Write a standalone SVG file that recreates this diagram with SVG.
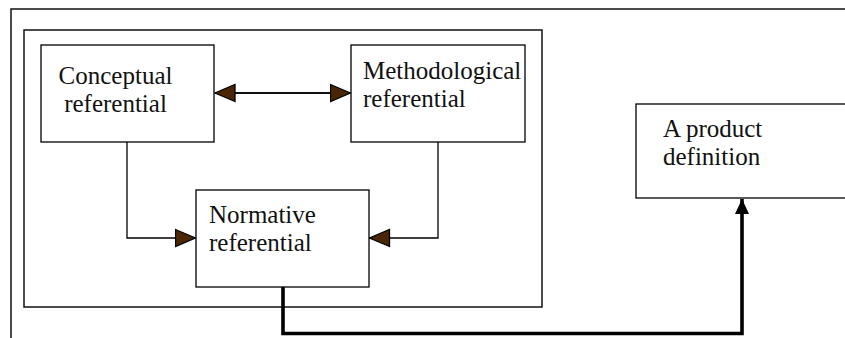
<svg xmlns="http://www.w3.org/2000/svg" width="845" height="338" viewBox="0 0 845 338">
  <defs>
    <style>
      .box { fill: #fff; stroke: #000; stroke-width: 1.3; }
      .frame { fill: none; stroke: #111; stroke-width: 1.5; }
      .link { fill: none; stroke: #000; stroke-width: 1.3; }
      .thick { fill: none; stroke: #000; stroke-width: 3.6; }
      .lbl { font-family: "Liberation Serif", "Times New Roman", serif; font-size: 25px; fill: #111; }
    </style>
    <marker id="brown" viewBox="0 0 22 20" refX="21" refY="10" markerWidth="22" markerHeight="20" markerUnits="userSpaceOnUse" orient="auto-start-reverse">
      <path d="M1,1.5 L21,10 L1,18.5 Z" fill="#4a2605" stroke="#000" stroke-width="1.3" stroke-linejoin="miter"/>
    </marker>
    <marker id="black" viewBox="0 0 16 15" refX="15" refY="7.5" markerWidth="16" markerHeight="15" markerUnits="userSpaceOnUse" orient="auto">
      <path d="M0,0.5 L15,7.5 L0,14.5 Z" fill="#000"/>
    </marker>
  </defs>

  <!-- outer frame (open on right and bottom) -->
  <path class="frame" d="M11,338 V9 H845"/>
  <!-- inner frame -->
  <rect class="frame" x="24" y="30" width="518" height="277"/>

  <g id="connectors">
    <line class="link" x1="234" y1="93" x2="332" y2="93"/>
    <line class="link" x1="215" y1="93" x2="350.5" y2="93" marker-start="url(#brown)" marker-end="url(#brown)"/>
    <path class="link" d="M127,142 V238 H195.5" marker-end="url(#brown)"/>
    <path class="link" d="M438,142 V238 H369.5" marker-end="url(#brown)"/>
    <path class="thick" d="M283,287 V333.5 H742 V199" marker-end="url(#black)"/>
  </g>

  <g id="conceptual">
    <rect class="box" x="41" y="45" width="173" height="97"/>
    <text class="lbl" x="115.5" y="84" text-anchor="middle">Conceptual</text>
    <text class="lbl" x="115.5" y="112" text-anchor="middle">referential</text>
  </g>

  <g id="methodological">
    <rect class="box" x="351" y="45" width="174" height="97"/>
    <text class="lbl" x="363" y="79">Methodological</text>
    <text class="lbl" x="363" y="107">referential</text>
  </g>

  <g id="normative">
    <rect class="box" x="196" y="190" width="173" height="97"/>
    <text class="lbl" x="209" y="223">Normative</text>
    <text class="lbl" x="209" y="251">referential</text>
  </g>

  <g id="product">
    <rect class="box" x="636" y="104" width="220" height="94"/>
    <text class="lbl" x="663" y="137">A product</text>
    <text class="lbl" x="663" y="165">definition</text>
  </g>
</svg>
